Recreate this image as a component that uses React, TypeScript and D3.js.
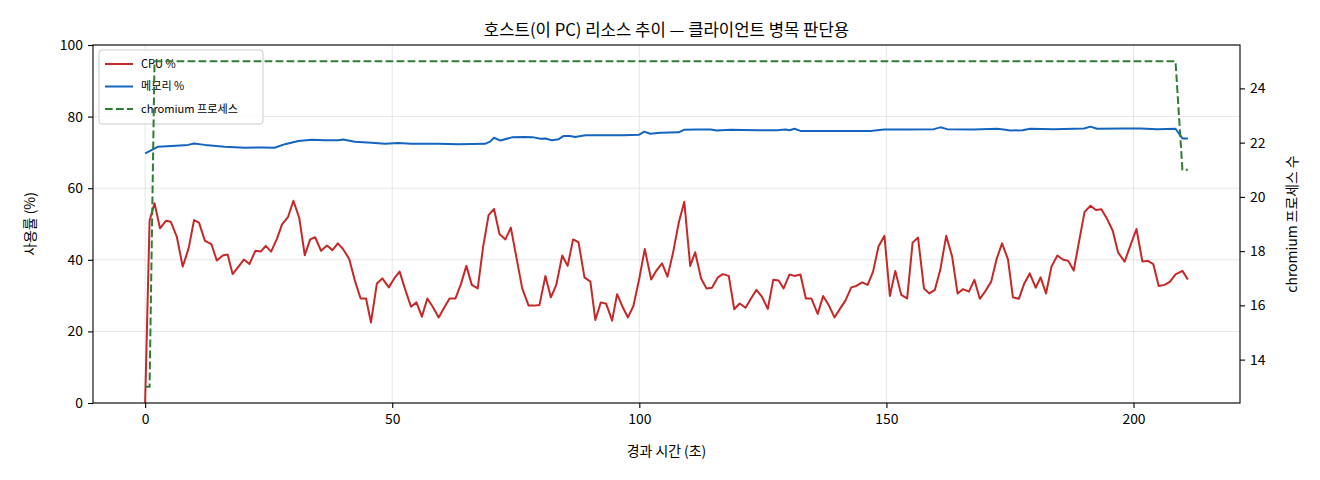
import { useRef, useEffect } from "react";
import * as d3 from "d3";

// elapsed seconds for each CPU sample
const TIME = [
  0, 0.9, 1.9, 3.0, 4.2, 5.2, 6.4, 7.6, 8.8, 9.9, 10.9, 12.1, 13.4, 14.5, 15.7, 16.7, 17.7, 18.9, 20.0,
  21.1, 22.3, 23.4, 24.4, 25.5, 26.7, 27.7, 28.9, 30.0, 31.2, 32.3, 33.4, 34.4, 35.6, 36.8, 37.9, 39.0,
  40.1, 41.3, 42.5, 43.6, 44.7, 45.7, 46.9, 48.0, 49.3, 50.4, 51.5, 52.6, 53.8, 54.9, 56.0, 57.1, 58.2,
  59.4, 60.5, 61.6, 62.8, 63.9, 65.0, 66.1, 67.3, 68.4, 69.5, 70.6, 71.7, 72.9, 74.0, 75.1, 76.3, 77.6,
  78.7, 79.8, 81.0, 82.1, 83.2, 84.4, 85.5, 86.6, 87.7, 88.9, 90.1, 91.1, 92.2, 93.3, 94.5, 95.5, 96.6,
  97.7, 98.8, 100.0, 101.1, 102.4, 103.4, 104.6, 105.7, 106.8, 108.0, 109.1, 110.3, 111.3, 112.5, 113.6,
  114.7, 115.9, 116.9, 118.1, 119.2, 120.3, 121.5, 122.6, 123.7, 124.8, 126.0, 127.1, 128.2, 129.2,
  130.4, 131.4, 132.6, 133.7, 134.8, 136.1, 137.2, 138.3, 139.5, 140.6, 141.7, 142.9, 143.9, 145.1,
  146.2, 147.3, 148.4, 149.6, 150.7, 151.8, 153.0, 154.2, 155.3, 156.4, 157.6, 158.7, 159.8, 160.9,
  162.1, 163.3, 164.4, 165.5, 166.7, 167.8, 168.9, 170.0, 171.2, 172.3, 173.4, 174.6, 175.6, 176.8,
  177.9, 179.0, 180.2, 181.2, 182.3, 183.4, 184.6, 185.7, 186.8, 187.9, 189.1, 190.1, 191.3, 192.4,
  193.5, 194.7, 195.8, 196.9, 198.2, 199.4, 200.6, 201.8, 202.9, 204.0, 205.1, 206.3, 207.4, 208.5,
  209.9, 211.0,
];

const CPU = [
  0, 50.9, 55.8, 48.8, 50.9, 50.6, 46.5, 38.1, 43.2, 51.1, 50.4, 45.3, 44.4, 39.8, 41.2, 41.5, 36.0, 38.1, 40.1,
  38.8, 42.5, 42.3, 43.9, 42.3, 46.0, 49.9, 51.9, 56.5, 51.6, 41.3, 45.7, 46.3, 42.5, 44.0, 42.7, 44.6,
  42.9, 40.2, 33.9, 29.2, 29.2, 22.5, 33.4, 34.8, 32.3, 34.8, 36.7, 31.8, 26.9, 28.1, 24.1, 29.2, 26.9,
  23.9, 26.6, 29.2, 29.2, 33.2, 38.3, 33.0, 32.0, 43.7, 52.5, 54.2, 47.2, 45.7, 49.0, 40.9, 32.0, 27.2,
  27.2, 27.4, 35.5, 29.5, 33.0, 41.2, 38.3, 45.7, 44.9, 35.1, 33.9, 23.2, 28.1, 27.7, 23.0, 30.4, 26.9,
  23.9, 27.1, 34.8, 43.0, 34.5, 36.9, 39.0, 35.3, 41.8, 50.5, 56.2, 38.3, 42.1, 34.8, 32.0,
  32.2, 35.1, 36.0, 35.5, 26.2, 27.8, 26.6, 29.2, 31.6, 29.7, 26.3, 34.4, 34.2, 32.0,
  35.9, 35.5, 35.9, 29.2, 29.2, 24.9, 29.9, 27.4, 23.9, 26.3, 28.6, 32.3, 32.7, 33.7,
  33.0, 36.7, 43.7, 46.7, 29.9, 36.9, 30.2, 29.2, 44.8, 46.2, 32.0, 30.6, 31.6, 37.2,
  46.7, 40.9, 30.6, 31.8, 31.1, 34.4, 29.1, 31.2, 33.9, 40.2, 44.6, 40.1, 29.5, 29.1,
  33.4, 36.2, 32.2, 35.1, 30.6, 38.1, 41.2, 40.1, 39.7, 37.0, 46.0, 53.4, 55.1, 53.9,
  54.1, 51.3, 48.1, 42.0, 39.5, 44.1, 48.6, 39.5, 39.7, 38.8, 32.7, 33.0, 33.9, 35.9,
  36.9, 34.5,
];

// memory line vertices
const MEM_T = [
  0, 1.0, 2.6, 5.3, 8.7, 9.9, 12.1, 16.1, 20.2, 23.5, 26.2, 28.3, 31.0, 33.7, 36.4, 39.1, 40.1, 42.4,
  45.8, 48.5, 51.2, 53.9, 59.3, 63.4, 68.8, 69.8, 70.6, 71.9, 74.2, 76.6, 78.6, 80.0, 81.0, 82.3, 83.7,
  84.7, 86.0, 87.0, 89.1, 96.8, 99.9, 101.0, 102.2, 104.3, 108.0, 109.0, 111.7, 114.4, 115.7, 118.4,
  123.8, 127.9, 129.6, 130.4, 131.4, 132.6, 137.3, 146.8, 149.5, 154.2, 159.6, 160.9, 162.3, 167.7,
  172.4, 173.7, 175.1, 177.5, 179.1, 183.9, 190.0, 191.3, 192.6, 198.0, 201.4, 204.8, 208.5, 209.9,
  211.0,
];

const MEM = [
  69.7, 70.4, 71.6, 71.8, 72.1, 72.5, 72.1, 71.6, 71.3, 71.4, 71.3, 72.3, 73.2, 73.5, 73.4, 73.4, 73.6, 73.0,
  72.7, 72.4, 72.6, 72.4, 72.4, 72.3, 72.4, 73.0, 74.1, 73.3, 74.2, 74.3, 74.2, 73.8, 73.9, 73.4, 73.7,
  74.6, 74.6, 74.3, 74.8, 74.8, 74.9, 75.8, 75.2, 75.5, 75.6, 76.3, 76.4, 76.4, 76.1, 76.3,
  76.2, 76.2, 76.4, 76.2, 76.6, 76.0, 76.0, 76.0, 76.4, 76.4, 76.5, 77.0, 76.5, 76.4,
  76.6, 76.4, 76.1, 76.2, 76.6, 76.5, 76.7, 77.2, 76.6, 76.7, 76.7, 76.5, 76.6, 73.9,
  73.9,
];

// chromium process count (changes only)
const PROC_T = [0, 0.9, 1.9, 208.5, 209.9, 211.0];
const PROC = [13, 13, 25, 25, 21, 21];

const LEFT_TICKS = [0, 20, 40, 60, 80, 100];
const RIGHT_TICKS = [14, 16, 18, 20, 22, 24];
const X_TICKS = [0, 50, 100, 150, 200];

const TITLE = "호스트(이 PC) 리소스 추이 — 클라이언트 병목 판단용";
const X_LABEL = "경과 시간 (초)";
const Y_LABEL = "사용률 (%)";
const Y2_LABEL = "chromium 프로세스 수";
const LEGEND = ["CPU %", "메모리 %", "chromium 프로세스"];

const COLORS = { cpu: "#c62828", mem: "#1565c0", proc: "#2e7d32" };
const FONT = "'Noto Sans CJK KR', 'Noto Sans', sans-serif";

export default function App() {
  const svgRef = useRef<SVGSVGElement>(null);

  useEffect(() => {
    if (!svgRef.current) return;
    const width = 1320;
    const height = 480;
    const margin = { top: 45, right: 80, bottom: 77, left: 93 };
    const innerW = width - margin.left - margin.right;
    const innerH = height - margin.top - margin.bottom;

    const svg = d3.select(svgRef.current);
    svg.selectAll("*").remove();
    svg.attr("width", width).attr("height", height);

    svg.append("rect").attr("width", width).attr("height", height).attr("fill", "#fff");

    const g = svg.append("g").attr("transform", `translate(${margin.left},${margin.top})`);

    const x = d3.scaleLinear().domain([-10.55, 221.55]).range([0, innerW]);
    const y = d3.scaleLinear().domain([0, 100]).range([innerH, 0]);
    const y2 = d3.scaleLinear().domain([12.4, 25.6]).range([innerH, 0]);

    // Grid
    g.append("g")
      .selectAll("line")
      .data(X_TICKS)
      .join("line")
      .attr("x1", (d) => x(d))
      .attr("x2", (d) => x(d))
      .attr("y1", 0)
      .attr("y2", innerH)
      .attr("stroke", "#b0b0b0")
      .attr("stroke-opacity", 0.3)
      .attr("stroke-width", 1);
    g.append("g")
      .selectAll("line")
      .data(LEFT_TICKS)
      .join("line")
      .attr("x1", 0)
      .attr("x2", innerW)
      .attr("y1", (d) => y(d))
      .attr("y2", (d) => y(d))
      .attr("stroke", "#b0b0b0")
      .attr("stroke-opacity", 0.3)
      .attr("stroke-width", 1);

    const styleAxis = (sel: d3.Selection<SVGGElement, unknown, null, undefined>) => {
      sel.select(".domain").remove();
      sel.selectAll(".tick line").attr("stroke", "#000").attr("stroke-width", 1.1);
      sel
        .selectAll(".tick text")
        .attr("fill", "#000")
        .attr("font-size", 13.9)
        .attr("font-family", FONT);
    };

    // Axes
    g.append("g")
      .attr("transform", `translate(0,${innerH})`)
      .call(d3.axisBottom(x).tickValues(X_TICKS).tickSize(5).tickPadding(6).tickFormat((d) => `${d}`))
      .call(styleAxis);
    g.append("g")
      .call(d3.axisLeft(y).tickValues(LEFT_TICKS).tickSize(5).tickPadding(5).tickFormat((d) => `${d}`))
      .call(styleAxis);
    g.append("g")
      .attr("transform", `translate(${innerW},0)`)
      .call(d3.axisRight(y2).tickValues(RIGHT_TICKS).tickSize(5).tickPadding(5).tickFormat((d) => `${d}`))
      .call(styleAxis);

    const cpuPts: [number, number][] = TIME.map((t, i) => [t, CPU[i]]);
    const memPts: [number, number][] = MEM_T.map((t, i) => [t, MEM[i]]);
    const procPts: [number, number][] = PROC_T.map((t, i) => [t, PROC[i]]);

    const line = d3
      .line<[number, number]>()
      .x((d) => x(d[0]))
      .y((d) => y(d[1]));
    const line2 = d3
      .line<[number, number]>()
      .x((d) => x(d[0]))
      .y((d) => y2(d[1]));

    g.append("path")
      .datum(cpuPts)
      .attr("fill", "none")
      .attr("stroke", COLORS.cpu)
      .attr("stroke-width", 2)
      .attr("stroke-linejoin", "round")
      .attr("d", line);

    g.append("path")
      .datum(memPts)
      .attr("fill", "none")
      .attr("stroke", COLORS.mem)
      .attr("stroke-width", 2)
      .attr("stroke-linejoin", "round")
      .attr("d", line);

    // Legend (belongs to the left axes, under the twin axes line)
    const leg = g.append("g").attr("transform", "translate(6,5)");
    leg
      .append("rect")
      .attr("width", 164)
      .attr("height", 74)
      .attr("rx", 3)
      .attr("fill", "#fff")
      .attr("fill-opacity", 0.8)
      .attr("stroke", "#cccccc")
      .attr("stroke-width", 1);
    const legColors = [COLORS.cpu, COLORS.mem, COLORS.proc];
    LEGEND.forEach((label, i) => {
      const ly = 14 + i * 22.5;
      leg
        .append("line")
        .attr("x1", 6)
        .attr("x2", 34)
        .attr("y1", ly)
        .attr("y2", ly)
        .attr("stroke", legColors[i])
        .attr("stroke-width", 2)
        .attr("stroke-dasharray", i === 2 ? "7.7,3.3" : null);
      leg
        .append("text")
        .attr("x", 42)
        .attr("y", ly)
        .attr("dy", "0.35em")
        .attr("font-size", 11.1)
        .attr("font-family", FONT)
        .attr("fill", "#000")
        .text(label);
    });

    g.append("path")
      .datum(procPts)
      .attr("fill", "none")
      .attr("stroke", COLORS.proc)
      .attr("stroke-width", 2)
      .attr("stroke-dasharray", "7.7,3.3")
      .attr("d", line2);

    // Frame
    g.append("rect")
      .attr("width", innerW)
      .attr("height", innerH)
      .attr("fill", "none")
      .attr("stroke", "#000")
      .attr("stroke-width", 1.1);

    // Title and labels
    svg
      .append("text")
      .attr("x", margin.left + innerW / 2)
      .attr("y", 30)
      .attr("dy", "0.35em")
      .attr("text-anchor", "middle")
      .attr("font-size", 16.7)
      .attr("font-family", FONT)
      .attr("fill", "#000")
      .text(TITLE);
    svg
      .append("text")
      .attr("x", margin.left + innerW / 2)
      .attr("y", 451)
      .attr("dy", "0.35em")
      .attr("text-anchor", "middle")
      .attr("font-size", 13.9)
      .attr("font-family", FONT)
      .attr("fill", "#000")
      .text(X_LABEL);
    svg
      .append("text")
      .attr("transform", `translate(30,${margin.top + innerH / 2}) rotate(-90)`)
      .attr("dy", "0.35em")
      .attr("text-anchor", "middle")
      .attr("font-size", 13.9)
      .attr("font-family", FONT)
      .attr("fill", "#000")
      .text(Y_LABEL);
    svg
      .append("text")
      .attr("transform", `translate(1292,${margin.top + innerH / 2}) rotate(-90)`)
      .attr("dy", "0.35em")
      .attr("text-anchor", "middle")
      .attr("font-size", 13.9)
      .attr("font-family", FONT)
      .attr("fill", "#000")
      .text(Y2_LABEL);
  }, []);

  return (
    <div style={{ position: "fixed", left: 0, top: 0, width: 1320, height: 480, background: "#fff" }}>
      <svg ref={svgRef} style={{ display: "block" }} />
    </div>
  );
}
